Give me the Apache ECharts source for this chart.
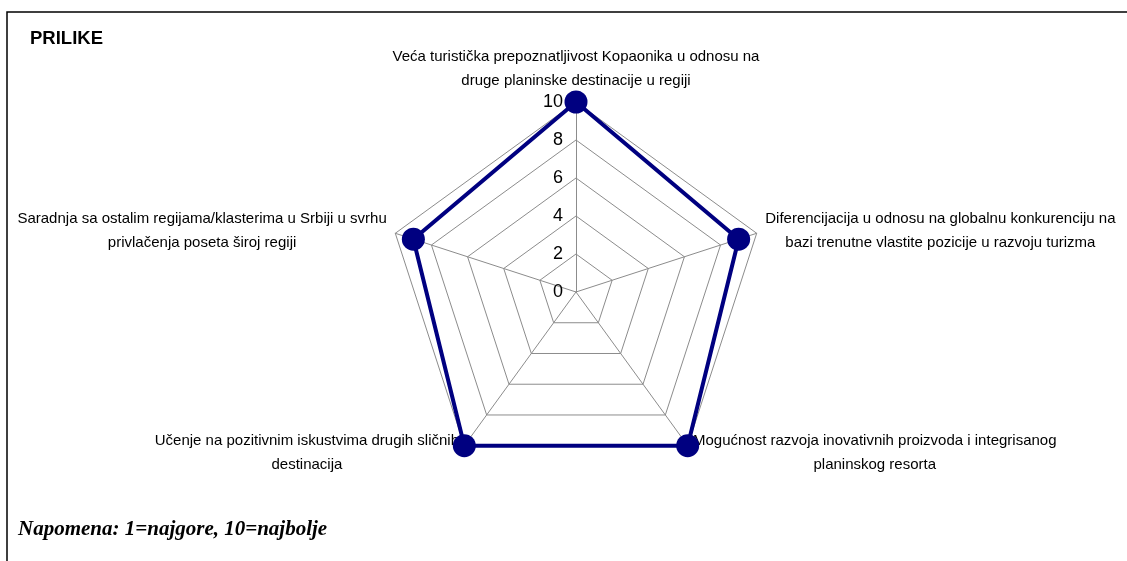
<!DOCTYPE html>
<html>
<head>
<meta charset="utf-8">
<script src="https://cdn.jsdelivr.net/npm/echarts@6/dist/echarts.min.js"></script>
<style>
  html, body { margin: 0; padding: 0; background: #fff; }
  #chart { width: 1127px; height: 561px; }
</style>
</head>
<body>
<div id="chart"></div>
<script>
// indicators in echarts order (counter-clockwise from the top)
const categories = [
  'Veća turistička prepoznatljivost Kopaonika u odnosu na\ndruge planinske destinacije u regiji',
  'Saradnja sa ostalim regijama/klasterima u Srbiji u svrhu\nprivlačenja poseta široj regiji',
  'Učenje na pozitivnim iskustvima drugih sličnih\ndestinacija',
  'Mogućnost razvoja inovativnih proizvoda i integrisanog\nplaninskog resorta',
  'Diferencijacija u odnosu na globalnu konkurenciju na\nbazi trenutne vlastite pozicije u razvoju turizma'
];
const values = [10, 9, 10, 10, 9];
const maxValue = 10;

const myChart = echarts.init(document.getElementById('chart'), null, { renderer: 'canvas' });

const option = {
  backgroundColor: '#fff',
  animation: false,
  title: {
    text: 'PRILIKE',
    left: 30,
    top: 29,
    padding: 0,
    textStyle: { fontFamily: 'Liberation Sans', fontWeight: 'bold', fontSize: 18.5, color: '#000' }
  },
  graphic: [
    {
      type: 'rect',
      shape: { x: 7, y: 12, width: 1200, height: 600 },
      style: { fill: 'none', stroke: '#000', lineWidth: 1.5 },
      silent: true
    },
    {
      type: 'text',
      left: 18,
      top: 519,
      style: {
        text: 'Napomena: 1=najgore, 10=najbolje',
        font: 'italic bold 21px "Liberation Serif"',
        fill: '#000'
      }
    }
  ],
  radar: {
    center: [576, 292],
    radius: 190,
    startAngle: 90,
    shape: 'polygon',
    splitNumber: 5,
    nameGap: 9,
    indicator: categories.map((name, i) => ({
      name: name,
      max: maxValue,
      min: 0,
      axisLabel: i === 0 ? { show: true } : undefined
    })),
    axisName: {
      color: '#000',
      fontFamily: 'Liberation Sans',
      fontSize: 15,
      lineHeight: 24,
      formatter: function (name) {
        return name.split('\n').map(l => '{c|' + l + '}').join('\n');
      },
      rich: {
        c: { align: 'center', fontFamily: 'Liberation Sans', fontSize: 15, lineHeight: 24, color: '#000' }
      }
    },
    axisLine: { lineStyle: { color: '#8c8c8c', width: 1 } },
    splitLine: { lineStyle: { color: '#8c8c8c', width: 1 } },
    splitArea: { show: false },
    axisTick: { show: false },
    axisLabel: {
      show: false,
      color: '#000',
      fontFamily: 'Liberation Sans',
      fontSize: 18,
      margin: 13
    }
  },
  series: [
    {
      type: 'radar',
      symbol: 'circle',
      symbolSize: 23,
      lineStyle: { color: '#000080', width: 4 },
      itemStyle: { color: '#000080' },
      data: [{ value: values, name: 'PRILIKE' }]
    }
  ]
};

myChart.setOption(option);
</script>
</body>
</html>
